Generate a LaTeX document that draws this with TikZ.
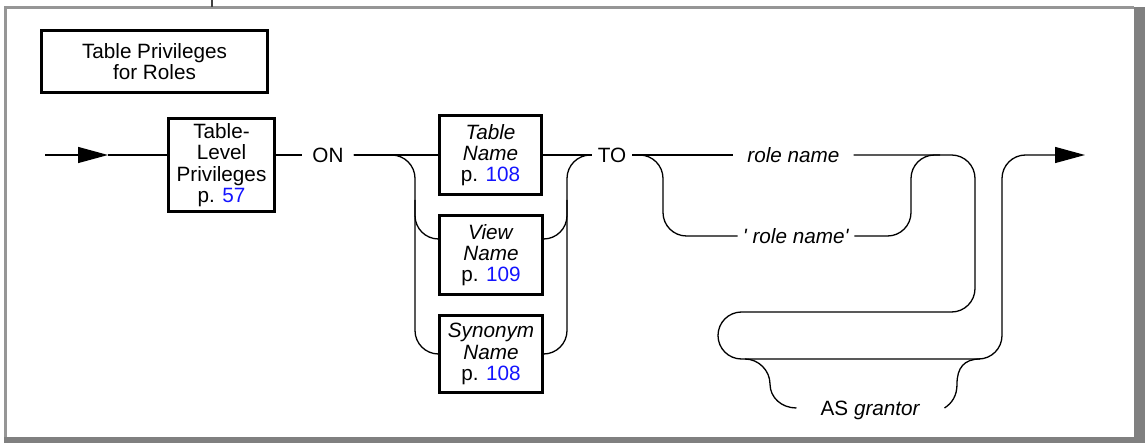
\documentclass[tikz,border=0pt]{standalone}
\usepackage{fontspec}
\setmainfont{Liberation Sans}
\usetikzlibrary{arrows.meta,calc}
\definecolor{pglink}{RGB}{20,20,255}
\definecolor{framelight}{RGB}{150,150,150}
\definecolor{framedark}{RGB}{128,128,128}
\newcommand{\dgfont}{\fontsize{20.7}{21.3}\selectfont}
\newcommand{\pnum}[1]{\textcolor{pglink}{#1}}
\begin{document}
\begin{tikzpicture}[x=1pt,y=-1pt,
  conn/.style={line width=1.3pt},
  box/.style={draw, line width=3pt, align=center, inner sep=0pt, font=\dgfont},
  lbl/.style={inner ysep=0pt, text height=15pt, text depth=0pt, font=\dgfont},
  tip/.style={-{Triangle[length=30pt,width=16pt]}},
  rc/.style={rounded corners=23.5pt}
]
\useasboundingbox (0,0) rectangle (1145,443);
% frame
\fill[framedark] (1134,7) rectangle (1145,443);
\fill[framedark] (4,437) rectangle (1145,443);
\draw[framelight, line width=3pt] (1134,8) -- (5,8) -- (5,437);
\draw[black!75, line width=1.5pt] (212,0) -- (212,7);

% title
\node[box, minimum width=226pt, minimum height=62pt] (title) at (154.5,61.5) {Table Privileges\\for Roles};

% coordinates
\coordinate (start) at (45,155);
\coordinate (tip1) at (108,155);
\coordinate (vrow) at (0,239);
\coordinate (end) at (1085,155);
\coordinate (asl) at (745,359);
\coordinate (asr) at (980,359);

% boxes
\node[box, minimum width=106pt, minimum height=93pt] (tlp) at (221.5,165) {Table-\\Level\\Privileges\\p. \pnum{57}};
\node[box, minimum width=102pt, minimum height=79pt] (tn) at (490.5,155) {\textit{Table}\\\textit{Name}\\p. \pnum{108}};
\node[box, minimum width=103pt, minimum height=79pt] (vn) at (491,255) {\textit{View}\\\textit{Name}\\p. \pnum{109}};
\node[box, minimum width=103pt, minimum height=77pt] (sn) at (491,354) {\textit{Synonym}\\\textit{Name}\\p. \pnum{108}};

% labels
\node[lbl, inner xsep=10pt] (on) at (328,155) {ON};
\node[lbl, inner xsep=6pt] (to) at (612,155) {TO};
\node[lbl, inner xsep=14pt] (rn) at (793.5,155) {\textit{role name}};
\node[lbl, inner xsep=5pt] (rq) at (796,236) {\textit{\textquotesingle\ role name\textquotesingle}};
\node[lbl, inner xsep=24pt] (asg) at (870.5,408) {AS \textit{grantor}};

% entry
\draw[conn, tip] (start) -- (tip1);
\draw[conn] (tip1) -- (tlp.west |- start);
\draw[conn] (tlp.east |- start) -- (on.west);

% ON choice
\draw[conn] (on.east) -- (tn.west);
\draw[conn, rc] (on.east) -- (415,155) -- (415,354) -- (sn.west);
\draw[conn, rc] (415,200) -- (415,239) -- (vn.west |- vrow);
\draw[conn] (tn.east) -- (to.west);
\draw[conn, rc] (sn.east) -- (567,354) -- (567,155) -- (to.west);
\draw[conn, rc] (vn.east |- vrow) -- (567,239) -- (567,200);

% TO choice
\draw[conn] (to.east) -- (rn.west);
\draw[conn, rc] (to.east) -- (663,155) -- (663,236) -- (rq.west);
\draw[conn, rc] (rq.east) -- (911,236) -- (911,155) -- (940,155);

% loop and exit
\draw[conn, rc, tip] (rn.east) -- (975,155) -- (975,312) -- (718,312) -- (718,359) -- (1002,359) -- (1002,155) -- (end);

% AS grantor
\draw[conn] (asl) .. controls (758.5,359) and (770,370.5) .. (770,384) .. controls (770,397.5) and (781.5,408) .. (asg.west);
\draw[conn] (asg.east) .. controls (952,403) and (957,396) .. (957,384) .. controls (957,368) and (964,359) .. (asr);
\end{tikzpicture}
\end{document}
